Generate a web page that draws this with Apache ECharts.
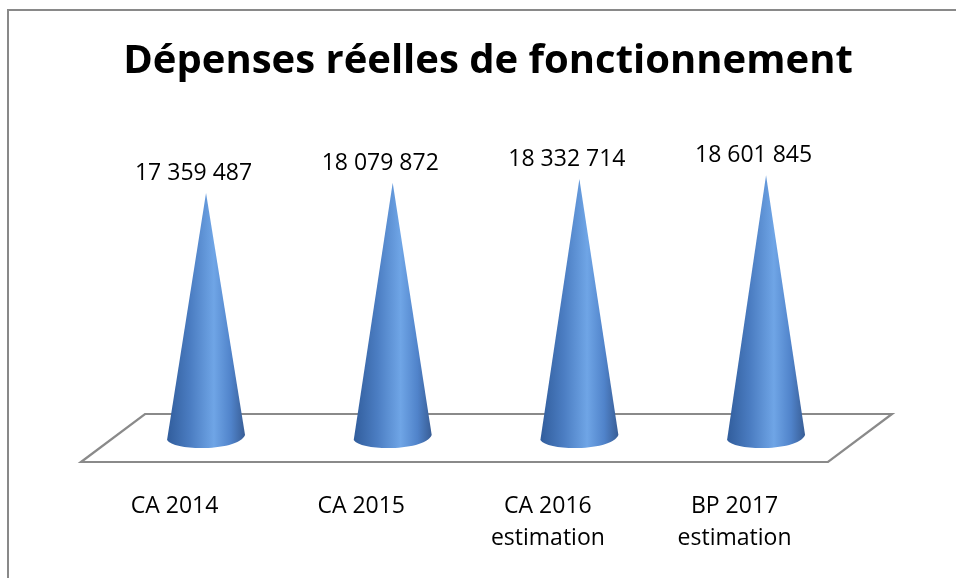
<!DOCTYPE html>
<html>
<head>
<meta charset="utf-8">
<style>
  html, body { margin: 0; padding: 0; background: #ffffff; }
  #chart { width: 956px; height: 578px; }
</style>
<script src="https://cdn.jsdelivr.net/npm/echarts@6/dist/echarts.min.js"></script>
</head>
<body>
<div id="chart"></div>
<script>
// ---- data ----
const chartTitle = 'Dépenses réelles de fonctionnement';
const categories = ['CA 2014', 'CA 2015', 'CA 2016\nestimation', 'BP 2017\nestimation'];
const values = [17359487, 18079872, 18332714, 18601845];
const valueMax = 20000000;

function fmt(n) {
  return String(n).replace(/\B(?=(\d{3})+(?!\d))/g, ' ');
}

const chart = echarts.init(document.getElementById('chart'), null, { renderer: 'canvas' });

const coneFill = new echarts.graphic.LinearGradient(0, 0, 1, 0, [
  { offset: 0, color: '#315d9c' },
  { offset: 0.3, color: '#4b7dc2' },
  { offset: 0.6, color: '#6fa5e6' },
  { offset: 0.82, color: '#5083ca' },
  { offset: 1, color: '#385d95' }
]);

const option = {
  backgroundColor: '#ffffff',
  animation: false,
  grid: [
    { left: 112.7, right: 96.6, top: 155, bottom: 135 },
    { left: 81.2, right: 128.1, top: 155, bottom: 135 }
  ],
  xAxis: [
    { type: 'category', gridIndex: 0, data: categories, show: false },
    {
      type: 'category', gridIndex: 1, data: categories,
      axisLine: { show: false }, axisTick: { show: false },
      axisLabel: {
        interval: 0, margin: 47,
        fontFamily: 'Open Sans', fontSize: 23, lineHeight: 32, color: '#000000'
      }
    }
  ],
  yAxis: [
    { type: 'value', gridIndex: 0, min: 0, max: valueMax, show: false, splitLine: { show: false } },
    { type: 'value', gridIndex: 1, min: 0, max: valueMax, show: false, splitLine: { show: false } }
  ],
  graphic: [
    {
      type: 'rect', z: 0, silent: true,
      shape: { x: 8, y: 10, width: 980, height: 620 },
      style: { fill: 'none', stroke: '#898989', lineWidth: 2 }
    },
    {
      type: 'polygon', z: 0, silent: true,
      shape: { points: [[81, 462], [145, 414], [892, 414], [828, 462]] },
      style: { fill: 'none', stroke: '#8a8a8a', lineWidth: 2.2 }
    },
    {
      type: 'text', z: 5,
      style: {
        text: chartTitle, x: 488, y: 62,
        textAlign: 'center', textVerticalAlign: 'middle',
        font: 'bold 40px "Open Sans"', fill: '#000000'
      }
    }
  ],
  series: [
    {
      type: 'custom',
      xAxisIndex: 0, yAxisIndex: 0,
      z: 3,
      data: values.map((v, i) => [i, v]),
      renderItem: function (params, api) {
        const i = api.value(0);
        const v = api.value(1);
        const tip = api.coord([i, v]);
        const base = api.coord([i, 0]);
        const cx = base[0], by = base[1], ty = tip[1];
        const r = 39;
        const path =
          'M ' + (cx - r) + ' ' + (by - 3) +
          ' L ' + cx + ' ' + ty +
          ' L ' + (cx + r) + ' ' + (by - 8) +
          ' C ' + (cx + r - 6) + ' ' + (by + 8) + ' ' + (cx - r + 8) + ' ' + (by + 9) + ' ' + (cx - r) + ' ' + (by - 3) + ' Z';
        return {
          type: 'group',
          children: [
            {
              type: 'path',
              shape: { pathData: path },
              style: { fill: coneFill, stroke: 'none' }
            },
            {
              type: 'text',
              style: {
                text: fmt(v), x: cx - 12.5, y: ty - 19.5,
                textAlign: 'center', textVerticalAlign: 'middle',
                font: '23px "Open Sans"', fill: '#000000'
              }
            }
          ]
        };
      }
    },
    {
      type: 'custom', xAxisIndex: 1, yAxisIndex: 1, data: [],
      renderItem: function () { return null; }
    }
  ]
};

chart.setOption(option);
</script>
</body>
</html>
